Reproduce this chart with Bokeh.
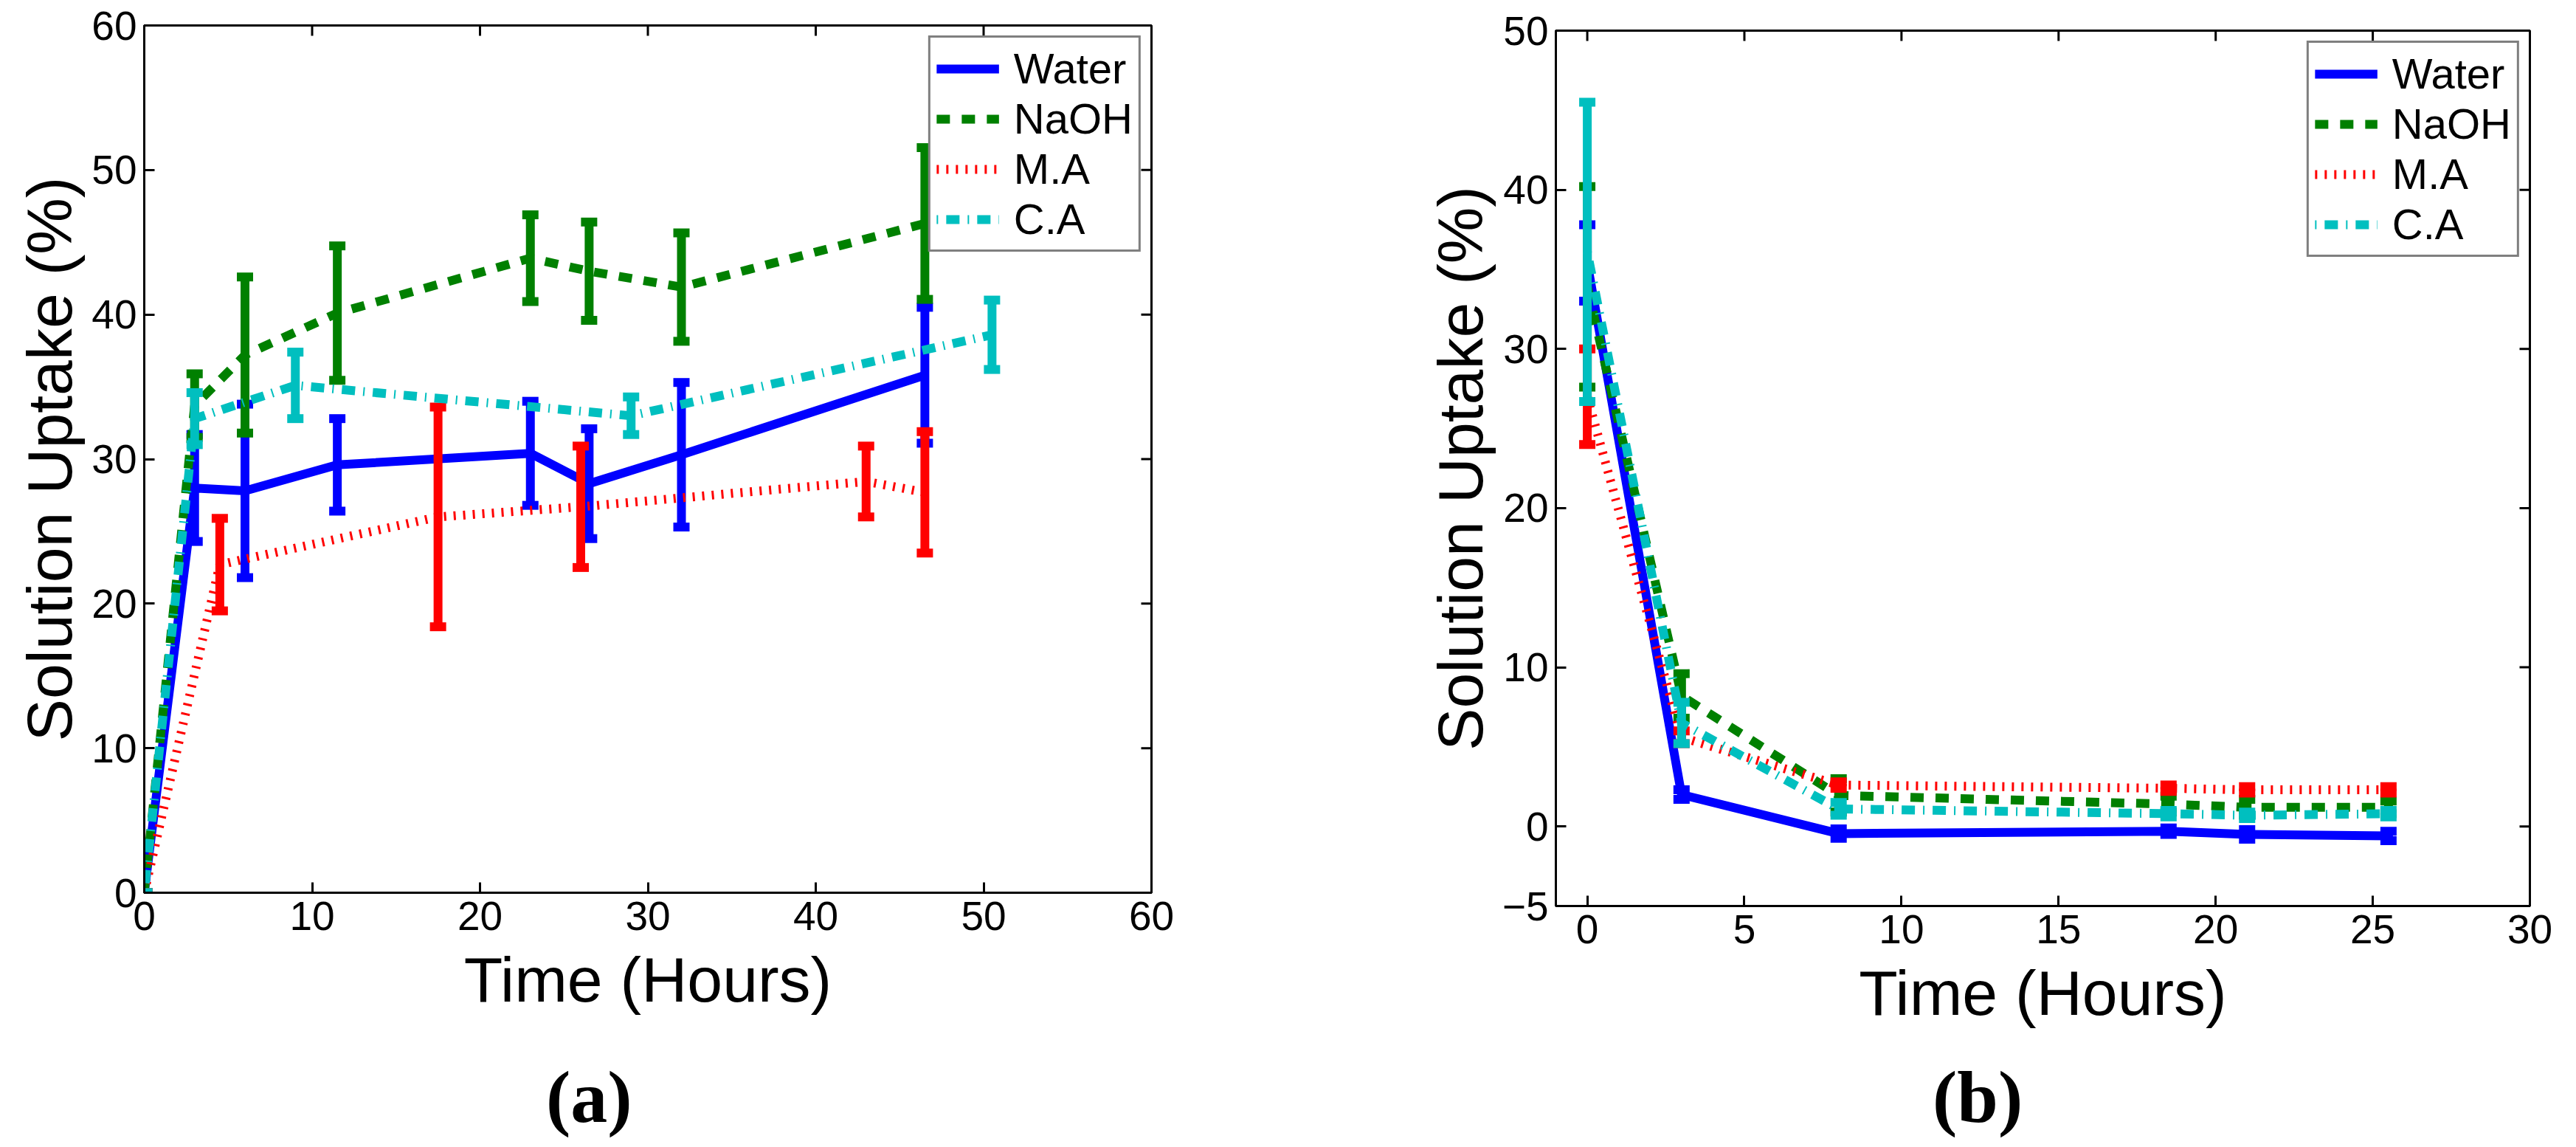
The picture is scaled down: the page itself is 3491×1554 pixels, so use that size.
import numpy as np
from bokeh.plotting import figure
from bokeh.layouts import row, column
from bokeh.models import Range1d, FixedTicker, Legend, LegendItem, Div
from bokeh.embed import file_html
from bokeh.resources import INLINE

# ---------------- data: panel (a) ----------------
a_water_t = [0, 3, 6, 11.5, 23, 26.5, 32, 46.5]
a_water_y = [0, 28.0, 27.8, 29.6, 30.4, 28.3, 30.3, 35.8]
a_water_e = [0, 3.7, 6.0, 3.2, 3.6, 3.8, 5.0, 4.7]

a_naoh_t = [0, 3, 6, 11.5, 23, 26.5, 32, 46.5]
a_naoh_y = [0, 33.7, 37.2, 40.1, 43.9, 43.0, 41.9, 46.3]
a_naoh_e = [0, 2.2, 5.4, 4.65, 3.0, 3.4, 3.75, 5.25]

a_ma_t = [0, 4.5, 17.5, 26, 43, 46.5]
a_ma_y = [0, 22.7, 26.0, 26.7, 28.45, 27.7]
a_ma_e = [0, 3.2, 7.6, 4.2, 2.45, 4.2]

a_ca_t = [0, 3, 9, 29, 50.5]
a_ca_y = [0, 32.8, 35.1, 33.0, 38.6]
a_ca_e = [0, 1.8, 2.3, 1.3, 2.4]

# ---------------- data: panel (b) ----------------
b_t = [0, 3, 8, 18.5, 21, 25.5]
b_water_y = [35.4, 2.0, -0.45, -0.3, -0.5, -0.6]
b_water_e = [2.4, 0.3, 0.3, 0.2, 0.3, 0.3]
b_naoh_y = [33.9, 8.2, 1.95, 1.4, 1.2, 1.2]
b_naoh_e = [6.3, 1.4, 1.05, 0.5, 0.5, 0.4]
b_ma_y = [27.0, 5.6, 2.6, 2.4, 2.3, 2.3]
b_ma_e = [3.0, 0.4, 0.2, 0.2, 0.2, 0.2]
b_ca_y = [36.1, 6.5, 1.1, 0.8, 0.7, 0.8]
b_ca_e = [9.4, 1.3, 0.4, 0.2, 0.2, 0.2]

labels = ["Water", "NaOH", "M.A", "C.A"]
colors = ["#0000FF", "#008000", "#FF0000", "#00BFBF"]
dashes = ["solid", "18 16", "3 10", "2 11 18 11"]

a_xticks = [0, 10, 20, 30, 40, 50, 60]
a_yticks = [0, 10, 20, 30, 40, 50, 60]
b_xticks = [0, 5, 10, 15, 20, 25, 30]
b_yticks = [-5, 0, 10, 20, 30, 40, 50]

FONT = "Liberation Sans"
LW = 12


def cfg_axis(ax, ticks, label, standoff, label_standoff, overrides=None):
    ax.ticker = FixedTicker(ticks=ticks)
    ax.axis_line_color = "black"
    ax.axis_line_width = 3
    ax.major_tick_in = 14
    ax.major_tick_out = 0
    ax.major_tick_line_width = 3
    ax.major_tick_line_color = "black"
    ax.minor_tick_line_color = None
    ax.major_label_text_font = FONT
    ax.major_label_text_color = "black"
    ax.major_label_text_font_size = "55px"
    ax.major_label_standoff = standoff
    if overrides:
        ax.major_label_overrides = overrides
    ax.axis_label = label
    ax.axis_label_text_font = FONT
    ax.axis_label_text_font_size = "86px"
    ax.axis_label_text_font_style = "normal"
    ax.axis_label_text_color = "black"
    ax.axis_label_standoff = label_standoff


def make_panel(width, height, xr, yr, xticks, yticks, borders, series, yoverrides=None):
    bl, br, bt, bb = borders
    p = figure(width=width, height=height, x_range=Range1d(*xr), y_range=Range1d(*yr),
               output_backend="svg", toolbar_location=None,
               min_border_left=bl, min_border_right=br, min_border_top=bt, min_border_bottom=bb)
    p.grid.visible = False
    p.outline_line_color = "black"
    p.outline_line_width = 3
    p.background_fill_color = "white"
    p.border_fill_color = "white"

    cfg_axis(p.xaxis[0], xticks, "Time (Hours)", 12, 16)
    cfg_axis(p.yaxis[0], yticks, "Solution Uptake (%)", 10, 6, yoverrides)

    # mirrored inward ticks on the top and right edges (clipped to the frame)
    xt = np.asarray(xticks, float)
    yt = np.asarray(yticks, float)
    p.scatter(x=xt, y=np.full(len(xt), yr[1]), marker="dash", size=28, angle=np.pi / 2,
              line_color="black", line_width=3)
    p.scatter(x=np.full(len(yt), xr[1]), y=yt, marker="dash", size=28,
              line_color="black", line_width=3)

    items = []
    for (t, y, e), lab, c, d in zip(series, labels, colors, dashes):
        t = np.asarray(t, float)
        y = np.asarray(y, float)
        e = np.asarray(e, float)
        r = p.line(t, y, line_color=c, line_width=LW, line_dash=d)
        p.segment(x0=t, y0=y - e, x1=t, y1=y + e, line_color=c, line_width=LW)
        p.scatter(x=np.concatenate([t, t]), y=np.concatenate([y - e, y + e]),
                  marker="dash", size=22, line_color=c, line_width=12)
        items.append(LegendItem(label=lab, renderers=[r]))

    legend = Legend(items=items, location="top_right", margin=14,
                    label_text_font=FONT, label_text_font_size="58px", label_text_color="black",
                    glyph_width=85, glyph_height=62, label_standoff=20,
                    padding=8, spacing=1,
                    border_line_color="black", border_line_width=3,
                    background_fill_color="white", background_fill_alpha=1.0)
    p.add_layout(legend)
    return p


H = 1425
CAP_H = 1538 - H


def caption(text, width, left):
    style = ("font-family:'Liberation Serif';font-weight:bold;font-size:100px;"
             "line-height:100px;color:black;padding-top:12px;margin-left:%dpx;" % left)
    return Div(text='<div style="%s">%s</div>' % (style, text), width=width, height=CAP_H, margin=0)


pa = make_panel(1745, H, (0, 60), (0, 60), a_xticks, a_yticks,
                (195, 185, 34, H - 34 - 1175),
                [(a_water_t, a_water_y, a_water_e), (a_naoh_t, a_naoh_y, a_naoh_e),
                 (a_ma_t, a_ma_y, a_ma_e), (a_ca_t, a_ca_y, a_ca_e)])

pb = make_panel(1730, H, (-1, 30), (-5, 50), b_xticks, b_yticks,
                (363, 47, 41, H - 41 - 1186),
                [(b_t, b_water_y, b_water_e), (b_t, b_naoh_y, b_naoh_e),
                 (b_t, b_ma_y, b_ma_e), (b_t, b_ca_y, b_ca_e)],
                yoverrides={-5: "\u22125"})

layout = row(column(pa, caption("(a)", 1745, 740), spacing=0),
             column(pb, caption("(b)", 1730, 874), spacing=0), spacing=0)
open("out.html", "w").write(file_html(layout, INLINE))
